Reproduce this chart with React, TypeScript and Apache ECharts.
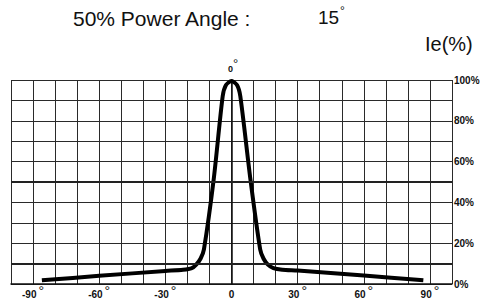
import React, { useEffect, useRef } from "react";
import * as echarts from "echarts";

const angles = [-86, -60, -30, -22, -18, -16, -14, -12.5, -8, -4, -2.5, 0, 2.5, 4, 8.5, 13, 14.5, 16.5, 19, 23, 30, 60, 87];
const values = [1.8, 4.0, 6.4, 7.0, 7.8, 9.5, 12.5, 17, 52, 92, 97.5, 99.5, 97.5, 92, 52, 17, 12.5, 9.5, 7.8, 7.0, 6.6, 4.2, 1.8];
const xLabelAngles = [-90, -60, -30, 0, 30, 60, 90];
const yLabelValues = [0, 20, 40, 60, 80, 100];
const boldLines = [50, 10];
const titleText = "50% Power Angle :";
const angleValue = "15";
const unitText = "Ie(%)";

export default function App() {
  const ref = useRef<HTMLDivElement>(null);
  useEffect(() => {
    const chart = echarts.init(ref.current!, null, { renderer: "svg" });
    const font = "Liberation Sans";
    chart.setOption({
      animation: false,
      backgroundColor: "#fff",
      grid: { left: 11, right: 31, top: 80, bottom: 14 },
      xAxis: {
        type: "value",
        min: -100,
        max: 100,
        interval: 10,
        axisLine: { show: true, onZero: false, lineStyle: { color: "#111", width: 1.5 } },
        axisTick: { show: false },
        splitLine: { show: true, lineStyle: { color: "#2a2a2a", width: 1 } },
        axisLabel: {
          margin: 2,
          interval: 0,
          formatter: (v: number) => {
            if (!xLabelAngles.includes(v)) return "";
            return v === 0 ? "{a|0}" : "{a|" + v + "}{b|°}";
          },
          rich: {
            a: { fontFamily: font, fontWeight: "bold", fontSize: 10, color: "#111", verticalAlign: "bottom", lineHeight: 13 },
            b: { fontFamily: font, fontSize: 14, color: "#111", padding: [0, 0, 3, 2], lineHeight: 13 },
          },
        },
      },
      yAxis: {
        type: "value",
        position: "right",
        min: 0,
        max: 100,
        interval: 10,
        axisLine: { show: true, lineStyle: { color: "#111", width: 1.5 } },
        axisTick: { show: false },
        splitLine: { show: true, lineStyle: { color: "#2a2a2a", width: 1 } },
        axisLabel: {
          margin: 2,
          fontFamily: font,
          fontWeight: "bold",
          fontSize: 10,
          color: "#111",
          formatter: (v: number) => (yLabelValues.includes(v) ? v + "%" : ""),
        },
      },
      series: [
        {
          type: "line",
          data: angles.map((a, i) => [a, values[i]]),
          smooth: 0.25,
          symbol: "none",
          lineStyle: { color: "#000", width: 4 },
          markLine: {
            silent: true,
            symbol: "none",
            label: { show: false },
            lineStyle: { color: "#222", width: 2, type: "solid" },
            data: boldLines.map((y) => ({ yAxis: y })),
          },
        },
      ],
      graphic: [
        { type: "text", left: 73, top: 8, style: { text: titleText, font: "21px " + font, fill: "#111" } },
        { type: "text", left: 318, top: 8, style: { text: angleValue, font: "19px " + font, fill: "#111" } },
        { type: "text", left: 340, top: 5, style: { text: "°", font: "12px " + font, fill: "#111" } },
        { type: "text", left: 425, top: 34, style: { text: unitText, font: "20px " + font, fill: "#111" } },
        { type: "text", left: 228, top: 64, style: { text: "0", font: "bold 9px " + font, fill: "#111" } },
        { type: "text", left: 233, top: 57, style: { text: "°", font: "13px " + font, fill: "#111" } },
      ],
    });
    return () => chart.dispose();
  }, []);
  return <div ref={ref} style={{ position: "fixed", left: 0, top: 0, width: 483, height: 301 }} />;
}
